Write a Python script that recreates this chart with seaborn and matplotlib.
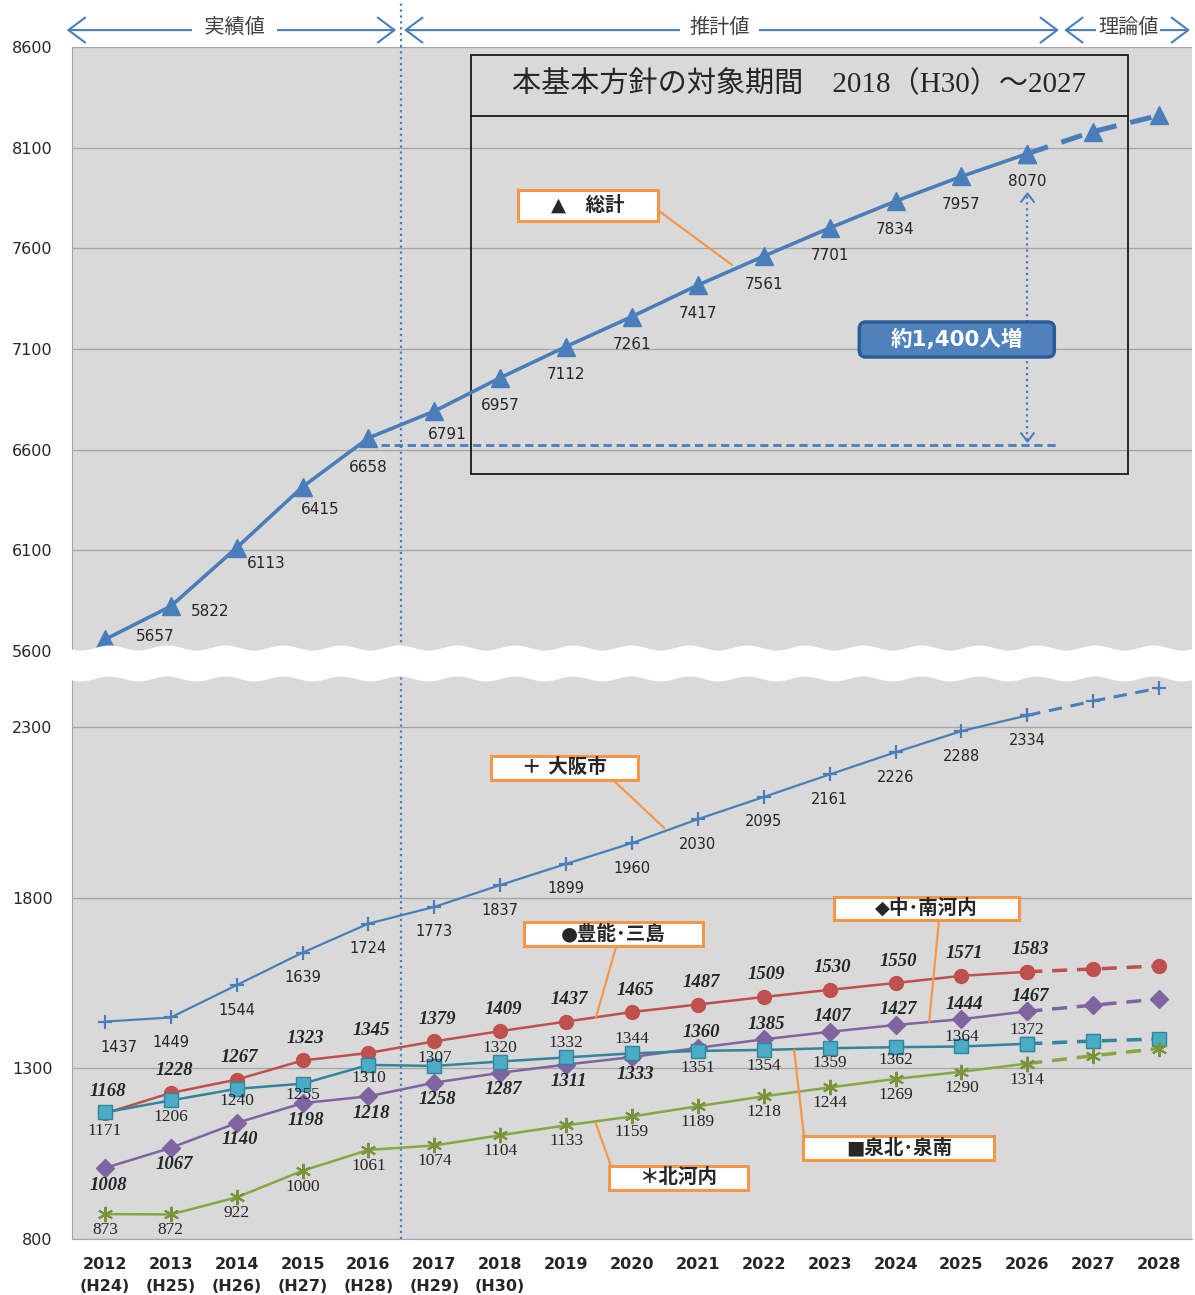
import numpy as np
import matplotlib
matplotlib.use('Agg')
import matplotlib.pyplot as plt
from matplotlib.patches import Rectangle, Polygon, FancyBboxPatch
import seaborn as sns

# データ（2027・2028 は理論値）
years = list(range(2012, 2029))
era_labels = ['(H24)', '(H25)', '(H26)', '(H27)', '(H28)', '(H29)', '(H30)']
total = [5657, 5822, 6113, 6415, 6658, 6791, 6957, 7112, 7261, 7417, 7561,
         7701, 7834, 7957, 8070, 8180, 8260]
osaka = [1437, 1449, 1544, 1639, 1724, 1773, 1837, 1899, 1960, 2030, 2095,
         2161, 2226, 2288, 2334, 2376, 2414]
toyono_mishima = [1168, 1228, 1267, 1323, 1345, 1379, 1409, 1437, 1465, 1487,
                  1509, 1530, 1550, 1571, 1583, 1591, 1600]
naka_minami = [1008, 1067, 1140, 1198, 1218, 1258, 1287, 1311, 1333, 1360,
               1385, 1407, 1427, 1444, 1467, 1485, 1503]
senboku_sennan = [1171, 1206, 1240, 1255, 1310, 1307, 1320, 1332, 1344, 1351,
                  1354, 1359, 1362, 1364, 1372, 1380, 1386]
kitakawachi = [873, 872, 922, 1000, 1061, 1074, 1104, 1133, 1159, 1189, 1218,
               1244, 1269, 1290, 1314, 1337, 1358]

n_est = 15  # 2012-2026 are labelled (実績値+推計値)

sns.set_style('white')
plt.rcParams['font.family'] = ['DejaVu Sans', 'Noto Sans CJK JP']

W, H = 1195, 1295
fig = plt.figure(figsize=(W / 100, H / 100), dpi=100)
ax_top = fig.add_axes([72 / W, 1 - 660 / H, 1120 / W, 613 / H])
ax_bot = fig.add_axes([72 / W, 1 - 1239 / H, 1120 / W, 569 / H])

BLUE = '#4a7ebb'
GRID = '#a6a6a6'
ORANGE = '#f79646'
PT = 0.72  # px -> pt


def draw(ax, vals, color, marker, ms, lw, mfc=None, mec=None, mew=1.0, lc=None):
    kw = dict(marker=marker, markersize=ms, markerfacecolor=mfc or color,
              markeredgecolor=mec or color, markeredgewidth=mew,
              color=lc or color, errorbar=None, ax=ax, zorder=4)
    sns.lineplot(x=years[:n_est], y=vals[:n_est], linewidth=lw, **kw)
    sns.lineplot(x=years[n_est - 1:], y=vals[n_est - 1:], linewidth=lw * 1.4,
                 linestyle=(0, (4.3, 2.8)), **kw)


def put_labels(ax, vals, dx_px, dy_px, **font):
    for yr, v, dx, dy in zip(years[:n_est], vals[:n_est], dx_px, dy_px):
        ax.annotate(f'{v}', (yr, v), xytext=(dx * PT, -dy * PT),
                    textcoords='offset points', ha='center', va='center',
                    zorder=8, **font)


def callout(ax, text, xs, ys, leader):
    ax.add_patch(Rectangle((xs[0], ys[0]), xs[1] - xs[0], ys[1] - ys[0],
                           facecolor='white', edgecolor=ORANGE, lw=2.2, zorder=9))
    ax.text((xs[0] + xs[1]) / 2, (ys[0] + ys[1]) / 2, text, ha='center',
            va='center', fontsize=14, fontweight='bold', zorder=10)
    lx, ly = zip(*leader)
    ax.plot(lx, ly, color=ORANGE, lw=1.6, zorder=9)


for ax in (ax_top, ax_bot):
    ax.set_facecolor('#d9d9d9')
    for s in ['top', 'right']:
        ax.spines[s].set_visible(False)
    ax.spines['left'].set_color(GRID)
    ax.axvline(2016.5, color=BLUE, ls=':', lw=1.6, zorder=1)

# 総計
draw(ax_top, total, BLUE, '^', 13, 2.6)
put_labels(ax_top, total, [50, 39, 30, 18, 0, 13] + [0] * 9,
           [-3, 5, 16, 23, 30, 23] + [28] * 9, fontsize=11)

# 地域別
draw(ax_bot, osaka, BLUE, '+', 10, 1.6, mew=1.6)
draw(ax_bot, toyono_mishima, '#c0504d', 'o', 10, 1.8)
draw(ax_bot, naka_minami, '#8064a2', 'D', 9, 1.8)
draw(ax_bot, senboku_sennan, '#4bacc6', 's', 9.5, 1.8, mec='#31859c', lc='#31859c')
draw(ax_bot, kitakawachi, '#77933c', (6, 2, 0), 11, 1.8, mew=1.5, lc='#86a843')

ital = dict(fontsize=13.5, family='Liberation Serif', fontweight='bold', style='italic')
serif = dict(fontsize=12.5, family='Liberation Serif')
put_labels(ax_bot, osaka, [14] + [0] * 14, [26] + [25] * 14, fontsize=10.5)
put_labels(ax_bot, toyono_mishima, [3] * 15, [-22] * 15, **ital)
put_labels(ax_bot, naka_minami, [3] * 15, [17] * 9 + [-15] * 6, **ital)
put_labels(ax_bot, senboku_sennan, [0] * 15,
           [19, 17, 12, 11, 13, -8, -14, -14, -14, 17, 16, 15, 13, -9, -14], **serif)
put_labels(ax_bot, kitakawachi, [0] * 15, [16] * 15, **serif)

# 軸
ax_top.set_xlim(2011.5, 2028.5)
ax_bot.set_xlim(2011.5, 2028.5)
ax_top.set_ylim(5555, 8600)
ax_bot.set_ylim(800, 2467)
ax_top.set_yticks(range(5600, 8601, 500))
ax_bot.set_yticks([800, 1300, 1800, 2300])
for ax in (ax_top, ax_bot):
    ax.grid(axis='y', color=GRID, lw=1)
    ax.set_axisbelow(True)
    ax.tick_params(axis='y', length=0, pad=14, labelsize=11.5)
    ax.set_xlabel('')
    ax.set_ylabel('')
ax_top.spines['bottom'].set_visible(False)
ax_top.set_xticks([])
ax_bot.spines['bottom'].set_color(GRID)
ax_bot.set_xticks(years)
ax_bot.set_xticklabels([f'{y}\n{e}' for y, e in zip(years, era_labels)] +
                       [str(y) for y in years[len(era_labels):]])
ax_bot.set_xticks(np.arange(2011.5, 2029, 1), minor=True)
ax_bot.tick_params(axis='x', which='major', length=0, pad=13, labelsize=11.5)
ax_bot.tick_params(axis='x', which='minor', length=6, color=GRID, width=1)
for t in ax_bot.get_xticklabels():
    t.set_fontweight('bold')
    t.set_linespacing(1.55)

# 対象期間の枠
ax_top.add_patch(Rectangle((2017.556, 6479), 9.974, 2081, fill=False,
                           ec='#1a1a1a', lw=1.3, zorder=2))
ax_top.plot([2017.556, 2027.53], [8257, 8257], color='#1a1a1a', lw=1.3, zorder=2)
ax_top.text(2022.54, 8416, '本基本方針の対象期間　2018（H30）～2027',
            ha='center', va='center', fontsize=21,
            family=['Liberation Serif', 'Noto Sans CJK JP'], zorder=3)

# 約1,400人増
ax_top.plot([2016, 2026.45], [6625, 6625], color=BLUE, lw=2,
            linestyle=(0, (3, 1.7)), zorder=2)
ax_top.plot([2026, 2026], [6650, 7868], color=BLUE, lw=1.6, ls=':', zorder=2)
ax_top.plot([2026], [7875], marker=[(-1, -1.3), (0, 0), (1, -1.3)], ms=13,
            mfc='none', mec=BLUE, mew=1.5, ls='none', zorder=2)
ax_top.plot([2026], [6643], marker=[(-1, 1.3), (0, 0), (1, 1.3)], ms=13,
            mfc='none', mec=BLUE, mew=1.5, ls='none', zorder=2)
ax_top.add_patch(FancyBboxPatch((2023.45, 7060), 2.96, 174,
                                boxstyle='round,pad=0,rounding_size=0.1',
                                mutation_aspect=327, fc='#4f81bd', ec='#2c5d96',
                                lw=2.5, zorder=6))
ax_top.text(2024.93, 7147, '約1,400人増', ha='center', va='center',
            color='white', fontsize=15.5, fontweight='bold', zorder=7)

# 凡例の吹き出し
callout(ax_top, '▲　総計', (2018.27, 2020.39), (7736, 7890),
        [(2020.39, 7790), (2021.52, 7517)])
callout(ax_bot, '＋ 大阪市', (2017.86, 2020.09), (2145, 2215),
        [(2019.71, 2145), (2020.49, 2004)])
callout(ax_bot, '●豊能･三島', (2018.36, 2021.08), (1658, 1729),
        [(2019.76, 1658), (2019.45, 1447)])
callout(ax_bot, '◆中･南河内', (2023.07, 2025.87), (1735, 1802),
        [(2024.66, 1735), (2024.51, 1436)])
callout(ax_bot, '■泉北･泉南', (2022.60, 2025.50), (1031, 1102),
        [(2022.61, 1102), (2022.46, 1354)])
callout(ax_bot, '＊北河内', (2019.65, 2021.76), (944, 1014),
        [(2019.68, 1014), (2019.45, 1140)])

# 上部の期間区分
ax_top.plot([2016.5, 2016.5], [8600, 8833], color=BLUE, ls=':', lw=1.6,
            clip_on=False, zorder=1)
for x0, x1, label, xc, pad in [(2011.42, 2016.42, ' 実績値 ', 2013.97, 0.3),
                               (2016.54, 2026.48, '推計値', 2021.33, 0.45),
                               (2026.56, 2028.47, '理論値', 2027.53, 0.1)]:
    ax_top.annotate('', xy=(x1, 8684), xytext=(x0, 8684), annotation_clip=False,
                    arrowprops=dict(arrowstyle='<->,head_length=0.6,head_width=0.45',
                                    color=BLUE, lw=1.5, shrinkA=0, shrinkB=0,
                                    mutation_scale=20))
    ax_top.text(xc, 8699, label, ha='center', va='center', fontsize=14.5,
                color='#404040', clip_on=False, zorder=6,
                bbox=dict(boxstyle=f'square,pad={pad}', fc='white', ec='none'))

# 波線（軸の省略）
xs = np.linspace(66, W, 400)
wave = 2.5 * np.sin(2 * np.pi * (xs - 66) / 58)
top_edge = 648 + wave
bot_edge = 679 + wave
verts = np.column_stack([np.r_[xs, xs[::-1]], np.r_[top_edge, bot_edge[::-1]]])
verts = np.column_stack([verts[:, 0] / W, 1 - verts[:, 1] / H])
fig.add_artist(Polygon(verts, closed=True, transform=fig.transFigure,
                       fc='white', ec='none', zorder=10))

fig.savefig('out.png', dpi=100)
